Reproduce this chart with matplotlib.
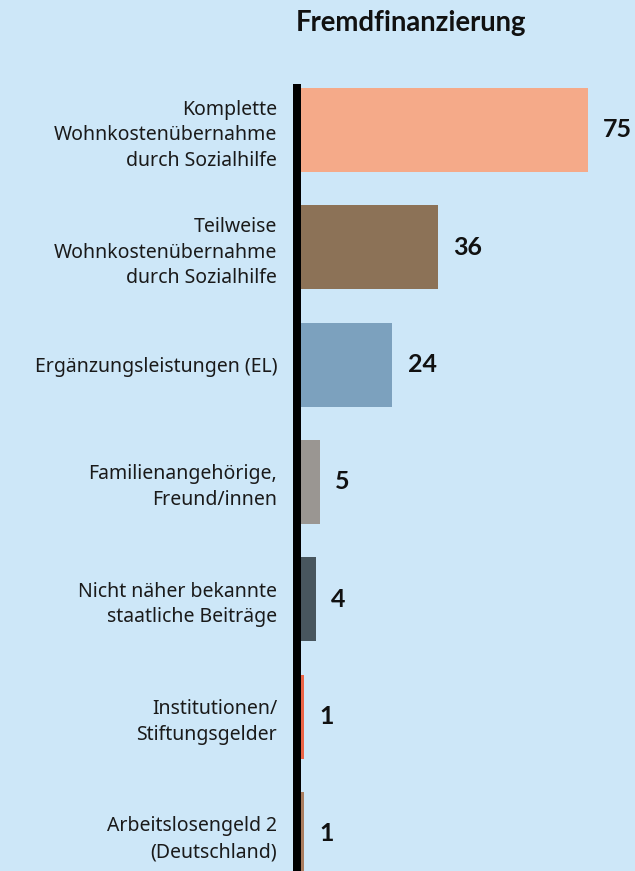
import matplotlib
matplotlib.use("Agg")
import matplotlib.pyplot as plt

plt.rcParams['font.family'] = ['Noto Sans', 'DejaVu Sans']
bold_font = ['Lato', 'DejaVu Sans']

categories = [
	"Komplette\nWohnkostenübernahme\ndurch Sozialhilfe",
	"Teilweise\nWohnkostenübernahme\ndurch Sozialhilfe",
	"Ergänzungsleistungen (EL)",
	"Familienangehörige,\nFreund/innen",
	"Nicht näher bekannte\nstaatliche Beiträge",
	"Institutionen/\nStiftungsgelder",
	"Arbeitslosengeld 2\n(Deutschland)",
]
values = [75, 36, 24, 5, 4, 1, 1]
colors = ["#f5aa89", "#8c7257", "#7ca1be", "#9a9692", "#48565e", "#eb6446", "#aa7d5f"]
title = "Fremdfinanzierung"

bg = "#cde7f8"
W, H = 635, 871
fig = plt.figure(figsize=(W / 100, H / 100), dpi=100, facecolor=bg)

# axes: left spine centred at px 296.5, bars start at px 300.5
px_per_unit = 3.829
ax_left = 296.5
ax = fig.add_axes([ax_left / W, 0, 1 - ax_left / W, 1 - 88 / H])
ax.set_facecolor(bg)

ypos = list(range(len(values)))
ax.barh(ypos, values, height=0.716, color=colors, zorder=1)

ax.set_xlim(-4 / px_per_unit, (W - 300.5) / px_per_unit)
ax.set_ylim(6.317, -0.358)

for y, v in zip(ypos, values):
	ax.annotate(str(v), xy=(v, y), xytext=(11, 0), textcoords="offset points",
				ha="left", va="center", fontsize=18, fontweight="bold",
				family=bold_font, color="#111111")

ax.set_yticks(ypos)
ax.set_yticklabels(categories, fontsize=14, color="#1a1a1a", linespacing=1.38)
ax.tick_params(axis="y", length=0, pad=14)
ax.set_xticks([])

for s in ["top", "right", "bottom"]:
	ax.spines[s].set_visible(False)
ax.spines["left"].set_linewidth(8 * 0.72)
ax.spines["left"].set_color("black")
ax.spines["left"].set_zorder(3)

fig.text(296 / W, 1 - 31 / H, title, ha="left", va="baseline",
		 fontsize=19.8, fontweight="bold", family=bold_font, color="#111111")

fig.savefig("out.png", dpi=100, facecolor=bg)
